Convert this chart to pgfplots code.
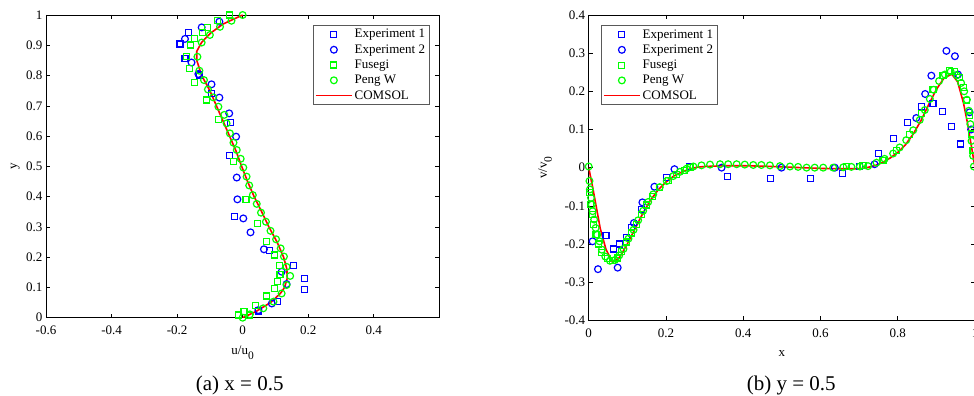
\documentclass[border=0pt]{standalone}
\usepackage{fontspec}
\setmainfont{Liberation Serif}
\usepackage{pgfplots}
\pgfplotsset{compat=1.18}
\definecolor{mblue}{rgb}{0,0,1}
\definecolor{mgreen}{rgb}{0,1,0}
\definecolor{mred}{rgb}{1,0,0}
\newcommand{\sub}[1]{\raisebox{-5pt}{\fontsize{11.5}{12}\selectfont #1}}
\newcommand{\fsz}{\fontsize{13}{15.3}\selectfont}
\pgfplotsset{
  mystyle/.style={
    scale only axis, anchor=south west,
    font=\fsz,
    tick label style={font=\fsz},
    label style={font=\fsz},
    /pgf/number format/assume math mode=true,
    /pgf/number format/fixed,
    tick align=inside,
    major tick length=4pt,
    axis line style={line width=0.6pt},
    every tick/.style={black, line width=0.6pt},
    xticklabel style={yshift=-5pt},
    legend style={font=\fsz, draw=black!65, line width=0.8pt,
      inner xsep=2pt, inner ysep=2pt, row sep=1.2pt},
    legend cell align=left,
    legend image code/.code={\draw[mark repeat=2,mark phase=2] plot coordinates {(0pt,0pt) (18pt,0pt) (36pt,0pt)};},
  },
  exA/.style={only marks, mark=square, color=mblue, mark size=3pt, mark options={line width=1.2pt}},
  exB/.style={only marks, mark=o, color=mblue, mark size=3.4pt, mark options={line width=1.2pt}},
  fuS/.style={only marks, mark=square, color=mgreen, mark size=3pt, mark options={line width=1.2pt}},
  pwS/.style={only marks, mark=o, color=mgreen, mark size=3.4pt, mark options={line width=1.2pt}},
  comsolS/.style={mark=none, color=mred, line width=1.6pt},
}
\begin{document}
\begin{tikzpicture}
\fill[white] (0,0) rectangle (974pt,396pt);
\useasboundingbox (0,0) rectangle (974pt,396pt);
% ---------------- left plot
\begin{axis}[mystyle, at={(46pt,78.3pt)}, width=393.3pt, height=302.7pt,
  xmin=-0.6, xmax=0.6, ymin=0, ymax=1,
  xtick={-0.6,-0.4,-0.2,0,0.2,0.4},
  ytick={0,0.1,0.2,0.3,0.4,0.5,0.6,0.7,0.8,0.9,1},
  xlabel={u/u\sub{0}}, ylabel={y},
  xlabel style={at={(axis description cs:0.5,-0.123)}, anchor=base},
  ylabel style={at={(axis description cs:-0.078,0.5)}, anchor=center},
  legend style={at={(0.975,0.967)}, anchor=north east}]
\addplot[exA] coordinates {
(-0.166,0.943) (-0.191,0.904) (-0.176,0.857) (-0.132,0.802) (-0.095,0.741)
(-0.036,0.644) (-0.041,0.535) (-0.025,0.333) (0.083,0.221) (0.155,0.173)
(0.188,0.130) (0.188,0.094) (0.107,0.053) (0.048,0.022)};
\addlegendentry{Experiment 1}
\addplot[exB] coordinates {
(-0.071,0.978) (-0.125,0.959) (-0.176,0.921) (-0.156,0.843) (-0.135,0.805)
(-0.095,0.771) (-0.071,0.727) (-0.041,0.675) (-0.020,0.598) (-0.018,0.463)
(-0.016,0.391) (0.002,0.328) (0.024,0.282) (0.065,0.226) (0.119,0.152)
(0.134,0.111) (0.089,0.047) (0.048,0.025)};
\addlegendentry{Experiment 2}
\addplot[fuS] coordinates {
(-0.041,1.0) (-0.077,0.981) (-0.108,0.959) (-0.122,0.943) (-0.146,0.923)
(-0.159,0.901) (-0.171,0.862) (-0.163,0.824) (-0.146,0.776) (-0.110,0.719)
(-0.074,0.655) (-0.028,0.515) (0.010,0.391) (0.045,0.312) (0.073,0.252)
(0.096,0.207) (0.112,0.172) (0.114,0.144) (0.106,0.119) (0.096,0.097)
(0.073,0.072) (0.038,0.039) (0.004,0.020) (-0.013,0.009) (0.022,0.006)};
\addlegendentry{Fusegi}
\addplot[pwS] coordinates {
(0,1) (-0.034,0.981) (-0.069,0.961) (-0.100,0.934) (-0.125,0.909)
(-0.138,0.862) (-0.132,0.816) (-0.118,0.785) (-0.106,0.754) (-0.090,0.728)
(-0.074,0.697) (-0.056,0.670) (-0.049,0.642) (-0.039,0.609) (-0.028,0.578)
(-0.018,0.554) (-0.006,0.525) (0.002,0.496) (0.012,0.466) (0.020,0.437)
(0.031,0.405) (0.043,0.376) (0.056,0.347) (0.071,0.317) (0.085,0.287)
(0.102,0.259) (0.116,0.229) (0.126,0.202) (0.134,0.168) (0.145,0.138)
(0.134,0.108) (0.119,0.080) (0.094,0.053) (0.063,0.031) (0.022,0.011) (0,0)};
\addlegendentry{Peng W}
\addplot[comsolS] coordinates {
(0,0) (0.040,0.020) (0.085,0.050) (0.115,0.080) (0.128,0.100) (0.136,0.130)
(0.135,0.160) (0.125,0.200) (0.105,0.250) (0.080,0.300) (0.058,0.350)
(0.035,0.400) (0.015,0.450) (-0.003,0.500) (-0.020,0.550) (-0.040,0.600)
(-0.060,0.650) (-0.080,0.700) (-0.100,0.750) (-0.125,0.800) (-0.140,0.850)
(-0.140,0.880) (-0.125,0.910) (-0.098,0.940) (-0.060,0.970) (0,1)};
\addlegendentry{COMSOL}
\end{axis}
% ---------------- right plot
\begin{axis}[mystyle, at={(588.7pt,75.7pt)}, width=386.3pt, height=305.3pt,
  xmin=0, xmax=1, ymin=-0.4, ymax=0.4,
  xtick={0,0.2,0.4,0.6,0.8,1},
  ytick={-0.4,-0.3,-0.2,-0.1,0,0.1,0.2,0.3,0.4},
  xlabel={x}, ylabel={v/v\sub{0}},
  xlabel style={at={(axis description cs:0.5,-0.117)}, anchor=base},
  ylabel style={at={(axis description cs:-0.113,0.5)}, anchor=center},
  legend style={at={(0.031,0.967)}, anchor=north west}]
\addplot[exA] coordinates {
(0.045,-0.178) (0.064,-0.213) (0.079,-0.200) (0.097,-0.183) (0.111,-0.156)
(0.137,-0.110) (0.202,-0.025) (0.260,0.002) (0.359,-0.024) (0.471,-0.029)
(0.574,-0.029) (0.657,-0.016) (0.702,0.003) (0.750,0.037) (0.790,0.076)
(0.826,0.119) (0.861,0.160) (0.891,0.169) (0.916,0.148) (0.939,0.107) (0.963,0.062)};
\addlegendentry{Experiment 1}
\addplot[exB] coordinates {
(0.010,-0.193) (0.024,-0.266) (0.075,-0.262) (0.117,-0.145) (0.139,-0.091)
(0.170,-0.050) (0.222,-0.004) (0.344,0) (0.499,0) (0.637,0) (0.740,0.009)
(0.848,0.130) (0.871,0.193) (0.887,0.241) (0.926,0.306) (0.948,0.292)
(0.956,0.244) (0.986,0.145) (0.990,0.100)};
\addlegendentry{Experiment 2}
\addplot[fuS] coordinates {
(0.003,-0.066) (0.005,-0.097) (0.009,-0.123) (0.013,-0.148) (0.019,-0.176)
(0.026,-0.200) (0.034,-0.222) (0.048,-0.239) (0.062,-0.244) (0.074,-0.237)
(0.085,-0.220) (0.098,-0.195) (0.111,-0.171) (0.124,-0.148) (0.137,-0.123)
(0.150,-0.098) (0.166,-0.075) (0.184,-0.053) (0.206,-0.033) (0.228,-0.018)
(0.249,-0.007) (0.262,0.000) (0.667,0.003) (0.710,0.005) (0.762,0.019)
(0.797,0.044) (0.831,0.086) (0.861,0.142) (0.891,0.204) (0.917,0.242)
(0.934,0.255) (0.947,0.251) (0.960,0.236) (0.971,0.209) (0.979,0.176)
(0.986,0.136) (0.991,0.088) (0.995,0.044)};
\addlegendentry{Fusegi}
\addplot[pwS] coordinates {
(0,0.003) (0.002,-0.035) (0.003,-0.057) (0.006,-0.079) (0.008,-0.097)
(0.010,-0.114) (0.014,-0.136) (0.018,-0.158) (0.022,-0.176) (0.028,-0.193)
(0.034,-0.215) (0.043,-0.233) (0.055,-0.244) (0.068,-0.242) (0.079,-0.230)
(0.090,-0.213) (0.103,-0.186) (0.116,-0.163) (0.128,-0.138) (0.141,-0.113)
(0.154,-0.090) (0.167,-0.070) (0.184,-0.051) (0.202,-0.035) (0.219,-0.022)
(0.236,-0.011) (0.253,-0.003) (0.271,0.003) (0.292,0.006) (0.314,0.008)
(0.340,0.009) (0.361,0.009) (0.383,0.009) (0.404,0.008) (0.426,0.007)
(0.447,0.007) (0.469,0.006) (0.495,0.004) (0.521,0.003) (0.542,0.002)
(0.564,0) (0.585,0) (0.607,0) (0.633,0) (0.659,0.001) (0.680,0.002)
(0.702,0.003) (0.723,0.004) (0.745,0.013) (0.766,0.023) (0.788,0.037)
(0.805,0.053) (0.822,0.072) (0.840,0.098) (0.857,0.125) (0.870,0.151)
(0.883,0.180) (0.893,0.204) (0.907,0.227) (0.922,0.244) (0.937,0.252)
(0.953,0.242) (0.964,0.222) (0.972,0.200) (0.979,0.178) (0.984,0.149)
(0.988,0.114) (0.991,0.070) (0.995,0.031) (0.997,0.003)};
\addlegendentry{Peng W}
\addplot[comsolS] coordinates {
(0,0) (0.010,-0.050) (0.020,-0.105) (0.030,-0.160) (0.045,-0.215) (0.062,-0.248)
(0.080,-0.235) (0.100,-0.200) (0.120,-0.160) (0.140,-0.120) (0.160,-0.085)
(0.180,-0.058) (0.200,-0.038) (0.220,-0.022) (0.240,-0.012) (0.260,-0.004)
(0.280,0.001) (0.300,0.003) (0.350,0.005) (0.400,0.005) (0.450,0.004)
(0.500,0.002) (0.550,0) (0.600,-0.002) (0.650,-0.003) (0.700,-0.003)
(0.720,0) (0.740,0.005) (0.760,0.013) (0.780,0.025) (0.800,0.040)
(0.820,0.060) (0.840,0.088) (0.860,0.123) (0.880,0.165) (0.900,0.205)
(0.920,0.235) (0.940,0.245) (0.955,0.225) (0.970,0.170) (0.980,0.120)
(0.990,0.060) (1.000,0)};
\addlegendentry{COMSOL}
\end{axis}
\node[anchor=base, font=\fontsize{21}{24}\selectfont] at (239.7pt,5.3pt) {(a) x = 0.5};
\node[anchor=base, font=\fontsize{21}{24}\selectfont] at (791.3pt,5.3pt) {(b) y = 0.5};
\end{tikzpicture}
\end{document}
